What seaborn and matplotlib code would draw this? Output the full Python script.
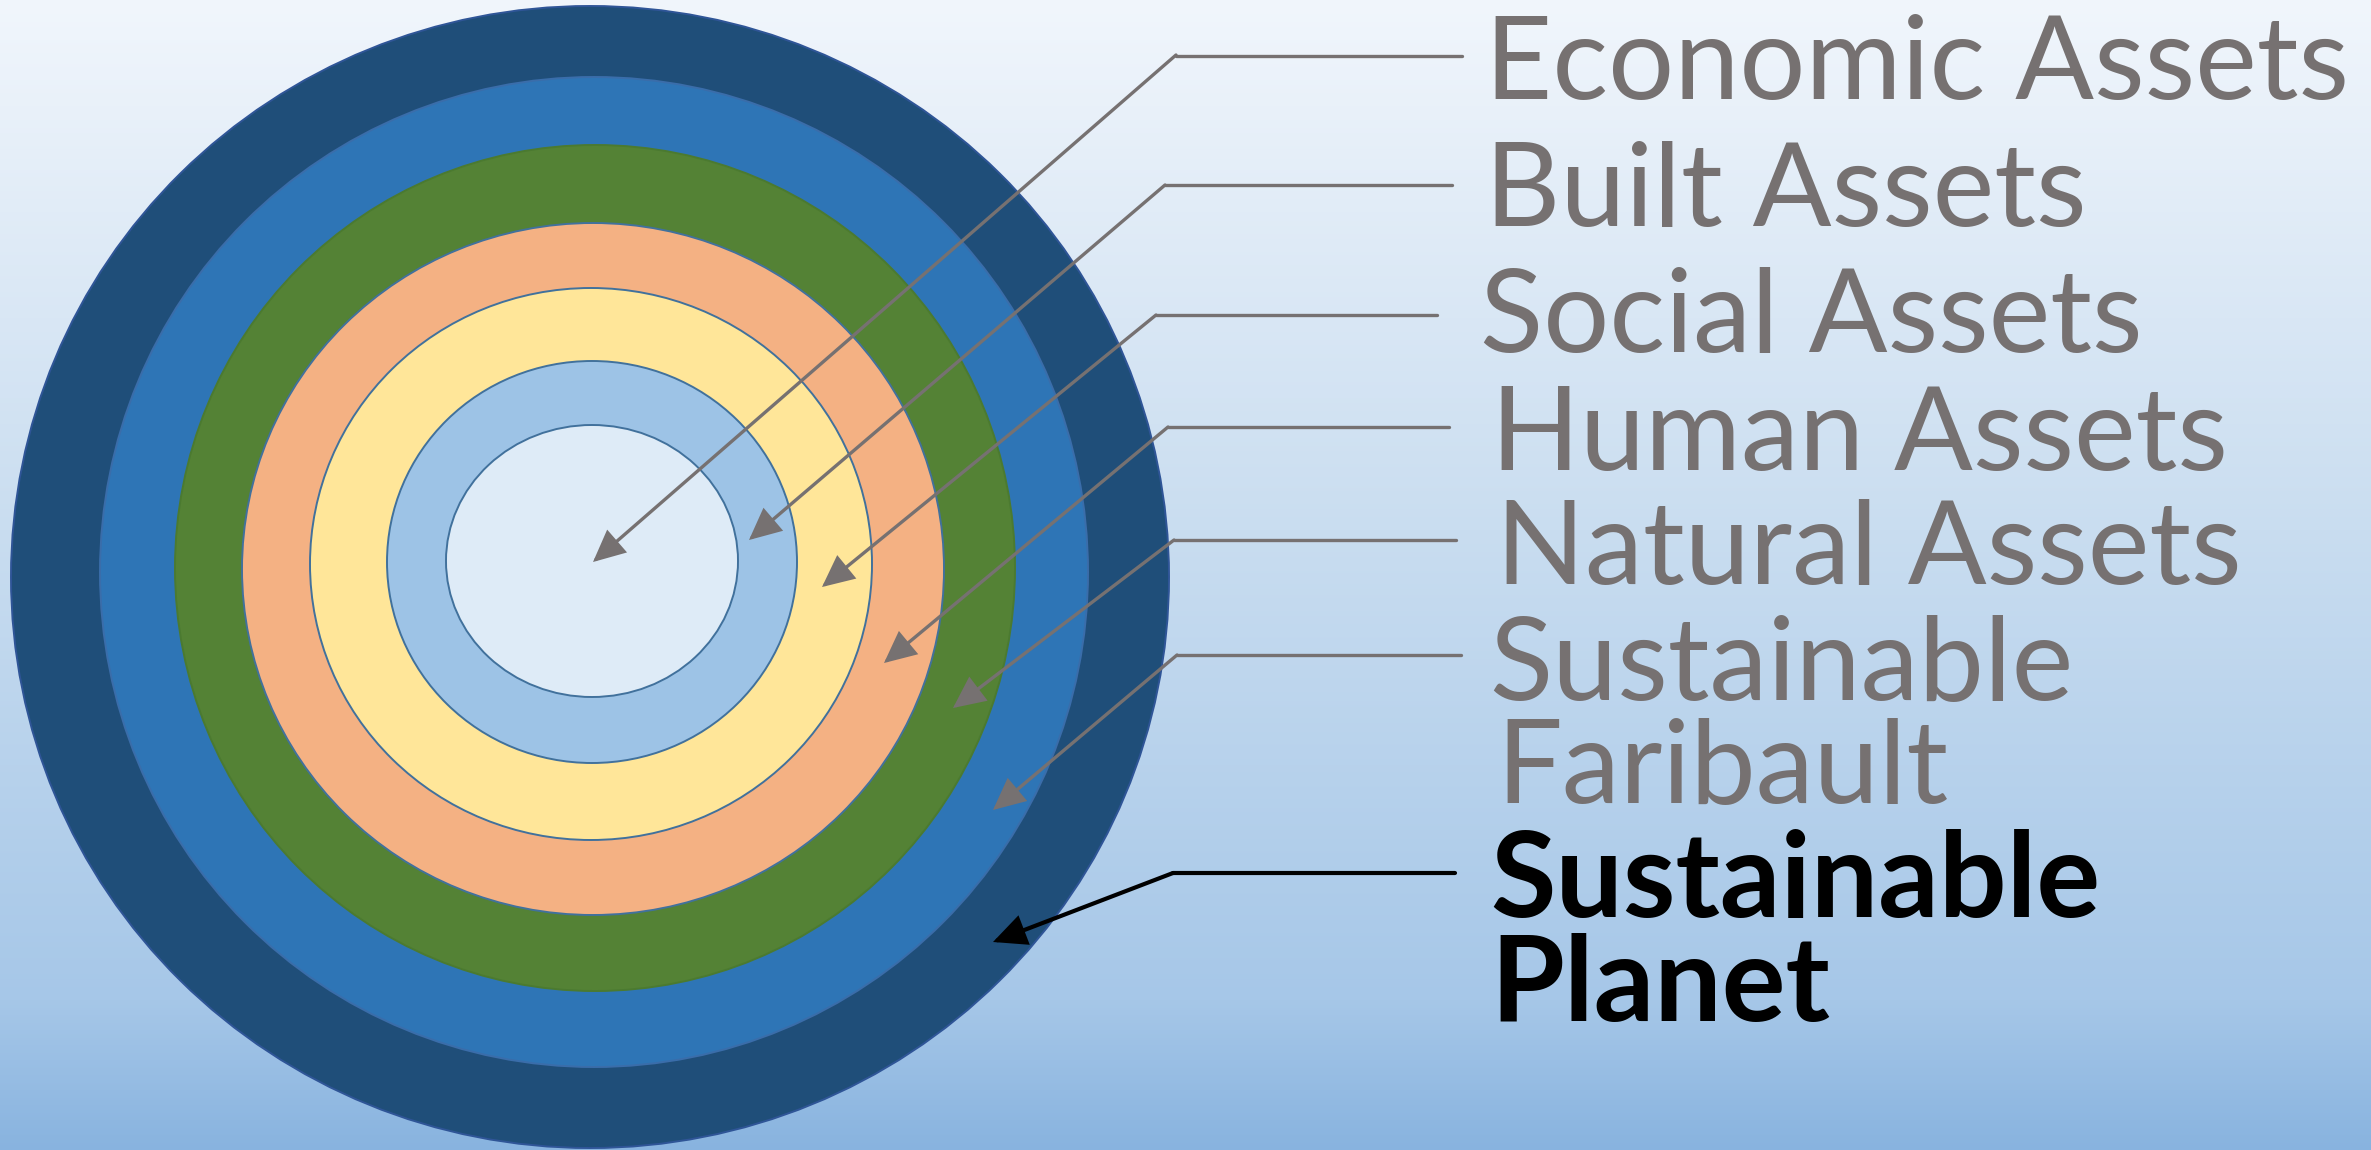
import numpy as np
import pandas as pd
import seaborn as sns
import matplotlib
matplotlib.use("Agg")
import matplotlib.pyplot as plt
from matplotlib.patches import Ellipse
from matplotlib.colors import to_rgb

# ---------------- data ----------------
ring_names = ["Sustainable Planet", "Sustainable Faribault", "Natural Assets",
              "Human Assets", "Social Assets", "Built Assets", "Economic Assets"]
ring_cx = [590, 594, 595, 593, 591, 592, 592]
ring_cy = [577, 572, 568, 569, 564, 562, 561]
ring_rx = [579, 494, 420, 351, 281, 205, 146]
ring_ry = [571, 495, 423, 346, 276, 201, 136]

label_lines = [["Economic Assets"], ["Built Assets"], ["Social Assets"],
               ["Human Assets"], ["Natural Assets"],
               ["Sustainable", "Faribault"], ["Sustainable", "Planet"]]
label_x = [[1485], [1485], [1480], [1491], [1496], [1489, 1496], [1490, 1490]]
label_base = [[99], [226], [352], [470], [584], [700, 803], [917, 1021]]

leader_end_x = [1462, 1452, 1437, 1449, 1456, 1461, 1455]
leader_y = [56, 185, 315, 427, 540, 655, 873]
elbow_x = [1176, 1165, 1156, 1168, 1174, 1177, 1173]
elbow_y = [55, 185, 315, 427, 540, 655, 873]
tip_x = [593, 749, 822, 884, 953, 993, 993]
tip_y = [562, 540, 587, 663, 708, 810, 942]

# ---------------- style ----------------
ring_colors = ["#1F4E79", "#2E75B6", "#548235", "#F4B183", "#FFE699", "#9DC3E6", "#DEEBF7"]
ring_edges = ["#2F5597", "#3A6DAA", "#4B7A30", "#41719C", "#41719C", "#41719C", "#41719C"]
gray = "#767171"
label_colors = [gray] * 6 + ["black"]
label_weights = ["normal"] * 6 + ["bold"]
label_sizes = [84] * 6 + [86]

sns.set_theme(style="white")
plt.rcParams["font.family"] = ["Lato", "DejaVu Sans"]

W, H = 2371, 1150
fig = plt.figure(figsize=(W / 100, H / 100), dpi=100)
ax = fig.add_axes([0, 0, 1, 1])
ax.set_xlim(0, W)
ax.set_ylim(H, 0)
ax.axis("off")

# background vertical gradient
stops_y = [0, 530, 1000, 1150]
stops_c = [to_rgb(c) for c in ["#F1F6FC", "#C9DDF0", "#A6C7E8", "#88B3DF"]]
yy = np.arange(H)
grad = np.stack([np.interp(yy, stops_y, [c[i] for c in stops_c]) for i in range(3)], axis=-1)
grad = np.repeat(grad[:, None, :], 4, axis=1)
ax.imshow(grad, extent=[0, W, H, 0], aspect="auto", zorder=0, interpolation="bilinear")

# rings
for i in range(len(ring_names)):
    e = Ellipse((ring_cx[i], ring_cy[i]), 2 * ring_rx[i], 2 * ring_ry[i],
                facecolor=ring_colors[i], edgecolor=ring_edges[i], lw=1.4, zorder=2 + i)
    ax.add_patch(e)

# leaders and arrows
for i in range(len(leader_y)):
    c = label_colors[i]
    lw = 3.0 if c == "black" else 2.4
    df = pd.DataFrame({"x": [elbow_x[i], leader_end_x[i]], "y": [leader_y[i], leader_y[i]]})
    sns.lineplot(data=df, x="x", y="y", ax=ax, color=c, lw=lw, zorder=20, legend=False)
    ax.annotate("", xy=(tip_x[i], tip_y[i]), xytext=(elbow_x[i], elbow_y[i]),
                arrowprops=dict(arrowstyle="-|>,head_length=19,head_width=9",
                                mutation_scale=1, lw=lw, color=c,
                                shrinkA=0, shrinkB=0, joinstyle="miter"),
                zorder=21)

# labels
for i, lines in enumerate(label_lines):
    for j, t in enumerate(lines):
        ax.text(label_x[i][j], label_base[i][j], t, fontsize=label_sizes[i],
                color=label_colors[i], fontweight=label_weights[i],
                ha="left", va="baseline", zorder=30)

ax.set_xlim(0, W)
ax.set_ylim(H, 0)
fig.savefig("out.png", dpi=100)
